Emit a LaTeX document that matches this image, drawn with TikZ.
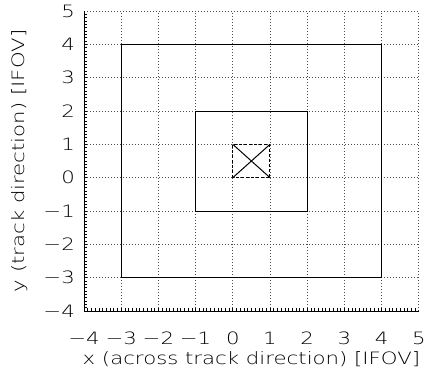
\documentclass[tikz,border=0pt]{standalone}
\usepackage{fontspec}
\setmainfont{DejaVu Sans ExtraLight}
\newcommand{\wide}[1]{\scalebox{1.25}[1]{#1}}
\begin{document}
\begin{tikzpicture}[x=37.2pt,y=33.33pt,
  gridline/.style={black!70,line width=0.6pt,dash pattern=on 1pt off 2pt},
  axisline/.style={black,line width=0.9pt},
  boxline/.style={black,line width=1pt},
  ticklab/.style={font=\fontsize{17}{17}\selectfont,inner sep=0pt},
  axlab/.style={font=\fontsize{17}{17}\selectfont,inner sep=0pt}]
\useasboundingbox (-6.258,-5.829) rectangle (5.167,5.331);
% grid
\foreach \i in {-3,...,5} {
  \draw[gridline] (\i,-4) -- (\i,5);
  \draw[gridline] (-4,\i) -- (5,\i);
}
% minor ticks
\foreach \k in {1,...,89} {
  \draw[black,line width=0.6pt] (-4,-4+\k/10) -- ++(3pt,0);
  \draw[black,line width=0.6pt] (-4+\k/10,-4) -- ++(0,3pt);
}
% axes
\draw[axisline] (-4,5) -- (-4,-4) -- (5,-4);
% boxes
\draw[boxline] (-3,-3) rectangle (4,4);
\draw[boxline] (-1,-1) rectangle (2,2);
\draw[boxline,dash pattern=on 3pt off 2pt] (0,0) rectangle (1,1);
\draw[boxline] (0,0) -- (1,1);
\draw[boxline] (0,1) -- (1,0);
% tick labels
\foreach \i/\t in {-4/−4,-3/−3,-2/−2,-1/−1,0/0,1/1,2/2,3/3,4/4,5/5} {
  \node[ticklab,anchor=base] (xl\i) at ([yshift=-34pt]\i,-4) {\wide{\t}};
  \node[ticklab,anchor=east] (yl\i) at ([xshift=-9pt]-4,\i) {\wide{\t}};
}
\node[axlab,anchor=base] (xlab) at ([yshift=-54pt]0.5,-4) {\wide{x (across track direction) [IFOV]}};
\node[axlab,anchor=base,rotate=90] (ylab) at ([xshift=-59pt]-4,0.5) {\wide{y (track direction) [IFOV]}};
\end{tikzpicture}
\end{document}
